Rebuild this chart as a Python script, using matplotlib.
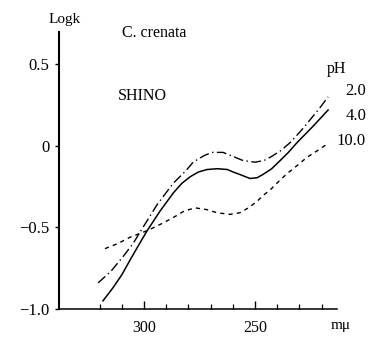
import matplotlib
matplotlib.use("Agg")
import matplotlib.pyplot as plt

plt.rcParams["font.family"] = ["Liberation Serif", "DejaVu Serif"]

# wavelength (m mu) and log k
wl_ph2 = [320.7, 315.0, 309.5, 305.0, 300.5, 294.1, 286.9, 281.0, 277.9, 273.0, 269.4, 264.4, 259.0, 255.4, 250.0, 246.0, 243.2, 238.5, 234.2, 229.5, 225.2, 221.0, 217.1]
logk_ph2 = [-0.84, -0.77, -0.68, -0.60, -0.50, -0.36, -0.23, -0.15, -0.10, -0.06, -0.04, -0.04, -0.07, -0.09, -0.10, -0.09, -0.07, -0.03, 0.02, 0.09, 0.16, 0.23, 0.30]

wl_ph4 = [318.5, 314.0, 310.0, 306.3, 302.5, 298.6, 292.8, 286.9, 283.0, 279.3, 275.5, 271.6, 267.0, 262.5, 259.9, 256.0, 252.3, 249.0, 246.4, 242.5, 238.7, 235.0, 231.1, 227.5, 223.9, 220.5, 217.1]
logk_ph4 = [-0.95, -0.87, -0.79, -0.70, -0.61, -0.52, -0.40, -0.29, -0.23, -0.19, -0.16, -0.145, -0.14, -0.145, -0.16, -0.18, -0.20, -0.195, -0.175, -0.14, -0.09, -0.04, 0.02, 0.07, 0.12, 0.17, 0.22]

wl_ph10 = [317.6, 312.0, 306.3, 302.5, 298.6, 292.5, 286.9, 282.0, 277.0, 272.0, 267.1, 261.3, 256.8, 253.0, 249.1, 246.0, 243.2, 239.5, 235.6, 231.0, 226.6, 222.0, 217.6]
logk_ph10 = [-0.63, -0.60, -0.56, -0.54, -0.52, -0.48, -0.44, -0.40, -0.38, -0.39, -0.41, -0.42, -0.41, -0.38, -0.34, -0.30, -0.27, -0.22, -0.17, -0.12, -0.07, -0.03, 0.01]

ph_labels = ["2.0", "4.0", "10.0"]
ytick_vals = [0.5, 0, -0.5, -1.0]
ytick_text = ["0.5", "0", "\u22120.5", "\u22121.0"]
xtick_major = [300, 250]
xtick_minor = [320, 310, 290, 280, 270, 260, 240, 230, 220]

W, H = 372, 337
fig = plt.figure(figsize=(W / 100, H / 100), dpi=100)
ax = fig.add_axes([59 / W, (H - 309) / H, (337 - 59) / W, (309 - 32) / H])


def px(x, y):
    # pixel position -> figure fraction
    return x / W, 1 - y / H


ax.plot(wl_ph2, logk_ph2, color="black", lw=1.0, linestyle=(0, (7, 2.5, 1, 2.5)))
ax.plot(wl_ph4, logk_ph4, color="black", lw=1.1)
ax.plot(wl_ph10, logk_ph10, color="black", lw=1.0, linestyle=(0, (3, 3)))

ax.set_xlim(338.3, 213.1)
ax.set_ylim(-1.0, 0.698)

for s in ["top", "right"]:
    ax.spines[s].set_visible(False)
ax.spines["left"].set_linewidth(1.5)
ax.spines["bottom"].set_linewidth(1.1)

ax.set_xticks(xtick_major)
ax.set_xticklabels([str(v) for v in xtick_major])
ax.set_xticks(xtick_minor, minor=True)
ax.tick_params(axis="x", which="major", direction="in", length=6, width=1.0, pad=8, labelsize=11.5)
ax.tick_params(axis="x", which="minor", direction="in", length=3.5, width=0.9)

ax.set_yticks(ytick_vals)
ax.set_yticklabels(ytick_text)
ax.tick_params(axis="y", which="major", direction="out", length=3, width=1.0, pad=4, labelsize=12)

fig.text(*px(65, 19), "Logk", ha="center", va="center", fontsize=11)
fig.text(*px(122, 33), "C. crenata", ha="left", va="center", fontsize=11.5)
fig.text(*px(118, 96), "SHINO", ha="left", va="center", fontsize=11.5)
fig.text(*px(337, 69), "pH", ha="center", va="center", fontsize=11.5)
for yy, lab in zip([91, 116, 141], ph_labels):
    fig.text(*px(366, yy), lab, ha="right", va="center", fontsize=12)
fig.text(*px(341, 326), "m\u03bc", ha="center", va="center", fontsize=11)

fig.savefig("out.png", dpi=100)
